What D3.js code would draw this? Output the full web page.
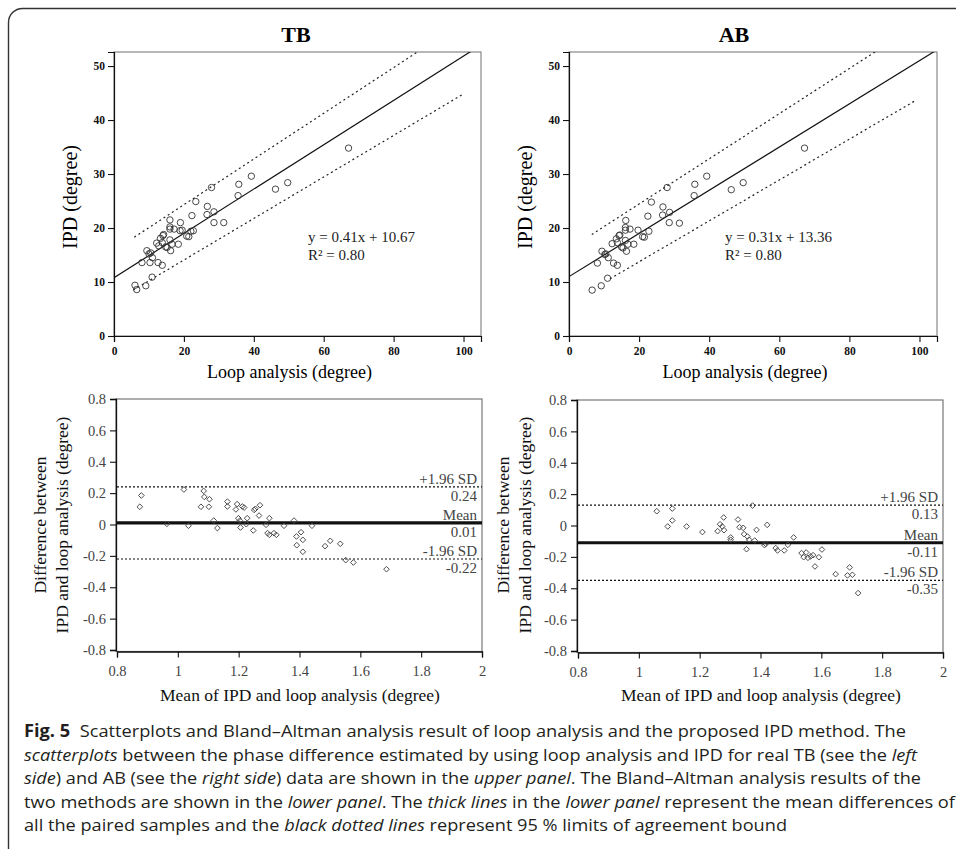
<!DOCTYPE html>
<html>
<head>
<meta charset="utf-8">
<script src="https://cdn.jsdelivr.net/npm/d3@7"></script>
<style>
    body { margin: 0; background: #fff; }
    svg { display: block; }
</style>
</head>
<body>
<script>
'use strict';

// scatter data, TB (loop analysis vs IPD, degree)
var tbLoop = [6.0, 6.5, 9.1, 10.9, 8.0, 9.4, 10.0, 10.5, 10.3, 11.0, 12.6, 13.8, 12.2, 12.8, 13.3, 14.0, 14.2,
    13.8, 14.8, 15.2, 16.0, 16.0, 16.0, 16.0, 17.2, 16.2, 16.6, 18.4, 19.0, 18.9, 19.5, 20.8, 21.4, 22.3, 22.0,
    22.7, 23.4, 26.7, 26.6, 27.9, 28.6, 28.6, 31.4, 35.7, 35.5, 39.3, 46.2, 49.7, 67.1];
var tbIpd = [9.4, 8.6, 9.3, 10.9, 13.6, 15.8, 15.2, 15.4, 13.6, 14.5, 13.6, 13.1, 17.2, 16.7, 18.1, 18.6, 18.8,
    17.3, 16.5, 16.4, 17.8, 21.5, 20.2, 19.8, 19.8, 15.8, 17.0, 17.0, 21.0, 19.5, 19.6, 18.5, 18.4, 22.3, 19.4,
    19.5, 24.9, 24.0, 22.5, 27.5, 23.0, 21.0, 21.0, 28.1, 26.0, 29.6, 27.2, 28.4, 34.8];

// scatter data, AB
var abLoop = [6.6, 9.2, 11.0, 8.1, 9.4, 10.2, 10.5, 11.2, 12.7, 13.8, 12.3, 13.5, 14.3, 14.5, 13.8, 15.0, 15.4,
    16.1, 16.2, 16.1, 16.1, 17.4, 16.4, 16.8, 18.5, 19.7, 21.0, 21.5, 22.5, 22.8, 23.5, 26.8, 26.7, 28.0, 28.7,
    28.6, 31.5, 35.9, 35.7, 39.3, 46.3, 49.7, 67.2];
var abIpd = [8.5, 9.3, 10.7, 13.5, 15.7, 15.1, 15.2, 14.5, 13.5, 13.1, 17.1, 18.0, 18.6, 18.7, 17.3, 16.5, 16.3,
    17.7, 21.4, 20.1, 19.6, 19.8, 15.7, 17.0, 17.0, 19.6, 18.4, 18.3, 22.2, 19.4, 24.8, 23.9, 22.4, 27.5, 22.9,
    21.0, 20.9, 28.1, 26.0, 29.6, 27.1, 28.4, 34.8];

// fitted line and the two dotted bounds, as end points [x, y]
var tbFitLine = [[0, 10.8], [105, 53.9]];
var tbUpperLine = [[5.8, 18.3], [105, 60.3]];
var tbLowerLine = [[5.5, 8.5], [99.9, 44.8]];
var abFitLine = [[0, 11.0], [105, 53.0]];
var abUpperLine = [[6.5, 18.8], [105, 60.0]];
var abLowerLine = [[11.7, 10.6], [99.1, 43.7]];

// Bland-Altman data, TB
var tbMean = [0.875, 0.880, 0.964, 1.020, 1.035, 1.085, 1.087, 1.076, 1.104, 1.102, 1.118, 1.130, 1.163, 1.163,
    1.191, 1.195, 1.199, 1.204, 1.206, 1.212, 1.218, 1.225, 1.228, 1.248, 1.251, 1.255, 1.267, 1.270, 1.290,
    1.295, 1.301, 1.301, 1.316, 1.324, 1.349, 1.382, 1.390, 1.391, 1.405, 1.411, 1.411, 1.441, 1.484, 1.501,
    1.534, 1.552, 1.577, 1.686];
var tbDiff = [0.113, 0.185, 0.004, 0.223, -0.008, 0.214, 0.176, 0.113, 0.161, 0.113, 0.025, -0.023, 0.146, 0.115,
    0.096, 0.130, 0.040, 0.025, -0.019, 0.115, 0.108, 0.002, 0.040, -0.038, 0.093, 0.100, 0.057, 0.123, -0.002,
    -0.055, -0.066, 0.040, -0.055, -0.066, -0.008, 0.025, -0.076, -0.132, -0.049, -0.098, -0.174, -0.008, -0.138,
    -0.104, -0.123, -0.227, -0.242, -0.285];

// Bland-Altman data, AB
var abMean = [1.059, 1.110, 1.110, 1.095, 1.157, 1.209, 1.259, 1.267, 1.274, 1.279, 1.280, 1.302, 1.302, 1.326,
    1.331, 1.343, 1.346, 1.357, 1.354, 1.363, 1.374, 1.381, 1.387, 1.413, 1.422, 1.417, 1.450, 1.456, 1.478,
    1.490, 1.509, 1.535, 1.542, 1.550, 1.556, 1.565, 1.573, 1.579, 1.592, 1.602, 1.647, 1.686, 1.693, 1.702, 1.721];
var abDiff = [0.091, 0.108, 0.032, -0.006, -0.006, -0.042, -0.036, 0.008, -0.006, 0.051, -0.030, -0.076, -0.091,
    0.038, -0.011, -0.015, -0.055, -0.070, -0.151, -0.091, 0.127, -0.096, -0.028, -0.125, 0.004, -0.117, -0.144,
    -0.159, -0.159, -0.123, -0.076, -0.176, -0.202, -0.172, -0.206, -0.197, -0.189, -0.261, -0.202, -0.153,
    -0.310, -0.318, -0.267, -0.314, -0.431];

// +1.96 SD, mean, -1.96 SD
var tbLimits = [0.24, 0.01, -0.22];
var abLimits = [0.13, -0.11, -0.35];
var limitNames = ['+1.96 SD', 'Mean', '-1.96 SD'];

var scatterTicksX = [0, 20, 40, 60, 80, 100];
var scatterTicksY = [0, 10, 20, 30, 40, 50];
var baTicksX = [0.8, 1, 1.2, 1.4, 1.6, 1.8, 2];
var baTicksY = [-0.8, -0.6, -0.4, -0.2, 0, 0.2, 0.4, 0.6, 0.8];

var captionLines = [
    [['Fig. 5', 'b'], ['  Scatterplots and Bland\u2013Altman analysis result of loop analysis and the proposed IPD method. The', '']],
    [['scatterplots', 'i'], [' between the phase difference estimated by using loop analysis and IPD for real TB (see the ', ''], ['left', 'i']],
    [['side', 'i'], [') and AB (see the ', ''], ['right side', 'i'], [') data are shown in the ', ''], ['upper panel', 'i'], ['. The Bland\u2013Altman analysis results of the', '']],
    [['two methods are shown in the ', ''], ['lower panel', 'i'], ['. The ', ''], ['thick lines', 'i'], [' in the ', ''], ['lower panel', 'i'], [' represent the mean differences of', '']],
    [['all the paired samples and the ', ''], ['black dotted lines', 'i'], [' represent 95 % limits of agreement bound', '']]
];
var captionWidths = [882, 893, 897, 931, 763];

var SERIF = '"Liberation Serif", "Times New Roman", serif';

var svg = d3.select('body').append('svg')
    .attr('width', 956)
    .attr('height', 849);

svg.append('rect')
    .attr('x', 8.5).attr('y', 8.5)
    .attr('width', 1100).attr('height', 1100)
    .attr('rx', 14)
    .attr('fill', 'none')
    .attr('stroke', '#333')
    .attr('stroke-width', 1.4);

function drawScatter(cfg) {
    var x = d3.scaleLinear().domain([0, 105]).range(cfg.xRange);
    var y = d3.scaleLinear().domain([0, 52.6]).range(cfg.yRange);
    var g = svg.append('g');

    var clipId = 'clip-' + cfg.id;
    svg.append('clipPath').attr('id', clipId)
        .append('rect')
        .attr('x', cfg.xRange[0]).attr('y', cfg.yRange[1])
        .attr('width', cfg.xRange[1] - cfg.xRange[0])
        .attr('height', cfg.yRange[0] - cfg.yRange[1]);

    g.append('rect')
        .attr('x', cfg.xRange[0]).attr('y', cfg.yRange[1])
        .attr('width', cfg.xRange[1] - cfg.xRange[0])
        .attr('height', cfg.yRange[0] - cfg.yRange[1])
        .attr('fill', 'none')
        .attr('stroke', '#888')
        .attr('stroke-width', 1.2);

    var xAxis = g.append('g')
        .attr('transform', 'translate(0,' + cfg.yRange[0] + ')')
        .call(d3.axisBottom(x).tickValues(scatterTicksX).tickSize(6).tickPadding(5));
    var yAxis = g.append('g')
        .attr('transform', 'translate(' + cfg.xRange[0] + ',0)')
        .call(d3.axisLeft(y).tickValues(scatterTicksY).tickSize(6).tickPadding(3));

    [xAxis, yAxis].forEach(function(a) {
        a.select('.domain').attr('stroke', '#111').attr('stroke-width', 1.2);
        a.selectAll('.tick line').attr('stroke', '#111').attr('stroke-width', 1.1);
        a.selectAll('.tick text')
            .style('font-family', SERIF)
            .style('font-size', '11.5px')
            .style('font-weight', 'bold')
            .attr('fill', '#111');
    });

    var line = d3.line()
        .x(function(d) { return x(d[0]); })
        .y(function(d) { return y(d[1]); });

    var lines = g.append('g').attr('clip-path', 'url(#' + clipId + ')');
    lines.append('path')
        .attr('d', line(cfg.fit))
        .attr('fill', 'none')
        .attr('stroke', '#111')
        .attr('stroke-width', 1.2);
    [cfg.upper, cfg.lower].forEach(function(pts) {
        lines.append('path')
            .attr('d', line(pts))
            .attr('fill', 'none')
            .attr('stroke', '#222')
            .attr('stroke-width', 1.2)
            .attr('stroke-dasharray', '2,3');
    });

    g.append('g').selectAll('circle')
        .data(cfg.xs)
        .enter()
        .append('circle')
        .attr('cx', function(d) { return x(d); })
        .attr('cy', function(d, i) { return y(cfg.ys[i]); })
        .attr('r', 3.2)
        .attr('fill', 'none')
        .attr('stroke', '#333')
        .attr('stroke-width', 0.9);

    g.append('text')
        .attr('x', cfg.titleX).attr('y', 42)
        .attr('text-anchor', 'middle')
        .style('font-family', SERIF)
        .style('font-size', '22px')
        .style('font-weight', 'bold')
        .text(cfg.title);

    var eq = g.append('g')
        .style('font-family', SERIF)
        .style('font-size', '15px')
        .attr('fill', '#222');
    eq.append('text')
        .attr('x', cfg.eqX).attr('y', 242)
        .text(cfg.equation);
    eq.append('text')
        .attr('x', cfg.eqX).attr('y', 260)
        .text('R\u00b2 = ' + cfg.r2);

    g.append('text')
        .attr('x', (cfg.xRange[0] + cfg.xRange[1]) / 2 - 8)
        .attr('y', 378)
        .attr('text-anchor', 'middle')
        .style('font-family', SERIF)
        .style('font-size', '18px')
        .text('Loop analysis  (degree)');

    g.append('text')
        .attr('transform', 'translate(' + cfg.yLabelX + ',' + ((cfg.yRange[0] + cfg.yRange[1]) / 2 + 3) + ') rotate(-90)')
        .attr('text-anchor', 'middle')
        .style('font-family', SERIF)
        .style('font-size', '20px')
        .text('IPD (degree)');
}

function drawBlandAltman(cfg) {
    var x = d3.scaleLinear().domain([0.8, 2]).range(cfg.xRange);
    var y = d3.scaleLinear().domain([-0.8, 0.8]).range(cfg.yRange);
    var g = svg.append('g');
    var fmt = function(d) { return String(+d.toFixed(1)); };

    g.append('rect')
        .attr('x', cfg.xRange[0] - 1).attr('y', cfg.yRange[1])
        .attr('width', cfg.xRange[1] - cfg.xRange[0] + 1)
        .attr('height', cfg.yRange[0] - cfg.yRange[1] + 1.5)
        .attr('fill', 'none')
        .attr('stroke', '#777')
        .attr('stroke-width', 1.2);

    var xAxis = g.append('g')
        .attr('transform', 'translate(0,' + (cfg.yRange[0] + 1.5) + ')')
        .call(d3.axisBottom(x).tickValues(baTicksX).tickFormat(fmt).tickSize(6).tickPadding(8));
    var yAxis = g.append('g')
        .attr('transform', 'translate(' + (cfg.xRange[0] - 1) + ',0)')
        .call(d3.axisLeft(y).tickValues(baTicksY).tickFormat(fmt).tickSize(6).tickPadding(4));

    [xAxis, yAxis].forEach(function(a) {
        a.select('.domain').attr('stroke', '#111').attr('stroke-width', 1.3);
        a.selectAll('.tick line').attr('stroke', '#111').attr('stroke-width', 1.1);
        a.selectAll('.tick text')
            .style('font-family', SERIF)
            .style('font-size', '14.5px')
            .attr('fill', '#444');
    });

    cfg.limits.forEach(function(v, i) {
        var yy = y(v);
        g.append('line')
            .attr('x1', cfg.xRange[0]).attr('x2', cfg.xRange[1])
            .attr('y1', yy).attr('y2', yy)
            .attr('stroke', '#111')
            .attr('stroke-width', i === 1 ? 3.2 : 1.1)
            .attr('stroke-dasharray', i === 1 ? null : '2,2');
        var lab = g.append('g')
            .style('font-family', SERIF)
            .style('font-size', '15px')
            .attr('fill', '#444')
            .attr('text-anchor', 'end');
        lab.append('text')
            .attr('x', cfg.xRange[1] - 5).attr('y', yy - 3)
            .text(limitNames[i]);
        lab.append('text')
            .attr('x', cfg.xRange[1] - 5).attr('y', yy + 14)
            .text(v.toFixed(2));
    });

    var diamond = d3.symbol().type(d3.symbolSquare).size(16);
    g.append('g').selectAll('path')
        .data(cfg.xs)
        .enter()
        .append('path')
        .attr('d', diamond)
        .attr('transform', function(d, i) {
            return 'translate(' + x(d) + ',' + y(cfg.ys[i]) + ') rotate(45)';
        })
        .attr('fill', 'none')
        .attr('stroke', '#444')
        .attr('stroke-width', 0.9);

    g.append('text')
        .attr('x', cfg.xLabelX)
        .attr('y', 701)
        .attr('text-anchor', 'middle')
        .style('font-family', SERIF)
        .style('font-size', '17.5px')
        .attr('fill', '#111')
        .text('Mean of IPD and loop analysis (degree)');

    var yl = g.append('text')
        .attr('transform', 'translate(' + cfg.yLabelX + ',525) rotate(-90)')
        .attr('text-anchor', 'middle')
        .style('font-family', SERIF)
        .style('font-size', '17.5px')
        .attr('fill', '#111');
    yl.append('tspan').attr('x', 0).attr('dy', 0).text('Difference between');
    yl.append('tspan').attr('x', 0).attr('dy', 22).text('IPD and loop analysis (degree)');
}

drawScatter({
    id: 'tb', title: 'TB', titleX: 296,
    xRange: [114, 481], yRange: [336, 52],
    xs: tbLoop, ys: tbIpd,
    fit: tbFitLine, upper: tbUpperLine, lower: tbLowerLine,
    equation: 'y = 0.41x + 10.67', r2: '0.80', eqX: 308, yLabelX: 77
});

drawScatter({
    id: 'ab', title: 'AB', titleX: 734,
    xRange: [569, 937], yRange: [336, 52],
    xs: abLoop, ys: abIpd,
    fit: abFitLine, upper: abUpperLine, lower: abLowerLine,
    equation: 'y = 0.31x + 13.36', r2: '0.80', eqX: 725, yLabelX: 532
});

drawBlandAltman({
    xRange: [117, 482], yRange: [650, 399],
    xs: tbMean, ys: tbDiff, limits: tbLimits,
    xLabelX: 300, yLabelX: 46
});

drawBlandAltman({
    xRange: [578, 943], yRange: [651, 400],
    xs: abMean, ys: abDiff, limits: abLimits,
    xLabelX: 761, yLabelX: 509
});

// caption
var caption = svg.append('g')
    .style('font-family', '"Open Sans", "Noto Sans", sans-serif')
    .style('font-size', '17px')
    .attr('fill', '#231f20');

captionLines.forEach(function(parts, i) {
    var t = caption.append('text')
        .attr('x', 24)
        .attr('y', 737 + i * 23.6)
        .attr('textLength', captionWidths[i])
        .attr('lengthAdjust', 'spacingAndGlyphs')
        .style('white-space', 'pre');
    parts.forEach(function(p) {
        t.append('tspan')
            .style('font-weight', p[1] === 'b' ? 'bold' : null)
            .style('font-style', p[1] === 'i' ? 'italic' : null)
            .text(p[0]);
    });
});
</script>
</body>
</html>
